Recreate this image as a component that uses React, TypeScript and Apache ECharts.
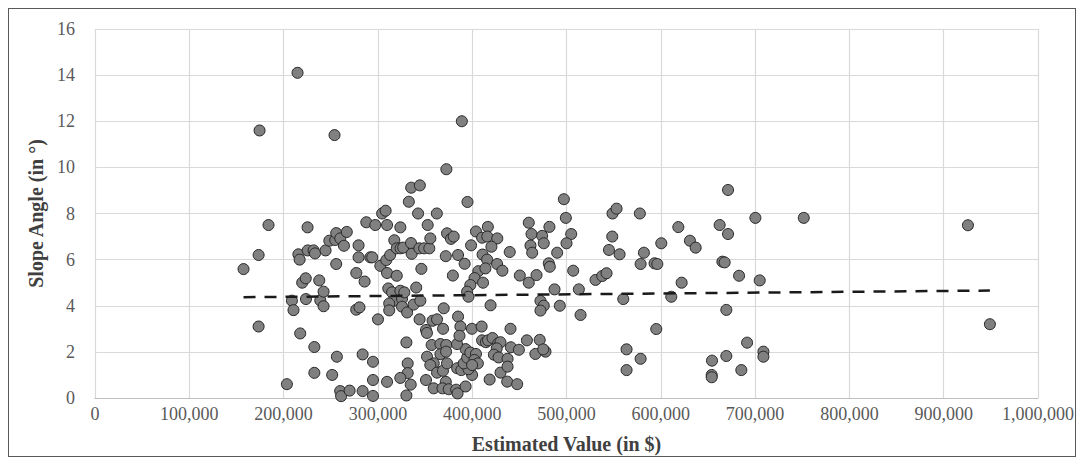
import React, { useEffect, useRef } from "react";
import * as echarts from "echarts";

// Estimated value in thousands of dollars, paired with slope angle (degrees)
const estimatedValueK = [
  157.5, 173.5, 173.5, 174.5, 184, 203.5, 208.8, 210.5, 214.8, 215.7, 217, 217.6, 219.7, 223.5, 223.7, 225.4, 225.6,
  231.8, 233.3, 232.6, 232.6, 237.8, 238.9, 242.4, 242.4, 244.5, 248.5, 251.5, 254, 254.8, 255.8, 255.8, 256.5, 260,
  261, 270, 260.1, 264, 267, 277.1, 279.5, 279.5, 285.9, 277, 280.5, 283.8, 283.8, 287.7, 292, 294, 294.8, 294.8,
  294.8, 297.2, 300.1, 302.6, 304.5, 308.2, 308.9, 309.7, 309.7, 309.7, 311, 315, 316, 312, 312, 313, 317.4, 320, 324,
  326.8, 320, 323.8, 323.8, 325.6, 328, 325.6, 331, 330.2, 331.6, 331.6, 323.8, 334.8, 330.2, 332.8, 335.3, 335.1,
  335.8, 337.9, 340.6, 344.5, 342.6, 344, 349, 354.5, 345, 344.2, 346.1, 352.8, 355.6, 351, 352, 358, 362.7, 369.1,
  369.8, 357, 366.3, 366.3, 372.5, 372.3, 352.1, 359.2, 355.6, 362.7, 369, 373.3, 372, 351, 359.2, 368.5, 375.1, 383,
  384.5, 393, 399.9, 418.5, 430, 437.1, 447.7, 384, 388.5, 396, 391, 394.6, 393, 398, 404, 402.4, 406, 399.9, 383.9,
  385, 387.5, 386.5, 399.7, 410, 419.5, 440.6, 410.5, 414.5, 416.8, 421.5, 427.5, 430, 426, 441, 449.5, 458, 423, 428,
  437.5, 437.5, 471.6, 467, 477.7, 475.3, 372.6, 389, 395, 362.5, 373.3, 377.5, 380.4, 372, 385, 392, 379.5, 398.8,
  404, 416.6, 410.5, 416, 426.6, 420.4, 411, 415.8, 426.4, 432, 406.5, 414, 402.5, 411.5, 398, 394.6, 396, 439.8,
  450.5, 468.2, 460, 460, 462.9, 474.2, 481.9, 475.9, 461.8, 463.6, 505, 500, 490.1, 481.2, 482.3, 507.1, 530.8,
  537.9, 542.5, 487.3, 513.1, 472.4, 475.9, 472.4, 492.9, 514.9, 497.2, 499.3, 548.8, 553.1, 577.8, 548.5, 545,
  556.3, 582.1, 578.6, 600.5, 618.6, 630.9, 637, 662.4, 671.3, 671.3, 593.4, 596.3, 665.3, 667.7, 683, 622.1, 560.2,
  611.1, 669.5, 595.2, 563.7, 578.6, 563.7, 654.3, 669.5, 685.4, 654, 654, 691.5, 700.3, 751.6, 925.7, 704.9, 949,
  708.8, 708.8,
];

const slopeAngle = [
  5.59, 6.2, 3.1, 11.6, 7.5, 0.6, 4.22, 3.81, 14.1, 6.23, 6.0, 2.8, 5.0, 5.19, 4.29, 7.4, 6.4,
  6.4, 6.27, 2.21, 1.09, 5.1, 4.23, 4.61, 3.98, 6.4, 6.82, 1.0, 11.4, 6.85, 7.15, 5.81, 1.79, 0.3,
  0.08, 0.32, 6.92, 6.6, 7.2, 5.42, 6.62, 6.1, 5.05, 3.83, 3.93, 1.89, 0.3, 7.62, 6.1, 6.1, 1.57, 0.78,
  0.09, 7.5, 3.41, 5.73, 8.0, 8.12, 5.98, 7.5, 5.42, 0.7, 4.75, 4.58, 4.2, 4.1, 3.8, 6.2, 6.84, 6.49, 6.49,
  6.52, 5.3, 7.4, 4.65, 4.3, 4.58, 3.96, 3.71, 2.41, 1.5, 1.08, 0.87, 0.58, 0.11, 8.51, 9.12, 6.72,
  6.25, 4.05, 4.79, 9.22, 8.0, 6.49, 6.49, 6.49, 4.22, 3.41, 5.6, 7.5, 6.92, 2.95, 2.82, 3.35, 3.41, 3.0,
  3.89, 2.3, 2.34, 1.9, 2.3, 2.01, 1.79, 1.5, 1.43, 1.1, 1.18, 1.5, 0.7, 0.78, 0.42, 0.42, 0.38, 0.36,
  0.2, 0.5, 1.0, 0.8, 1.1, 0.71, 0.6, 1.29, 1.21, 1.25, 1.5, 1.75, 2.12, 1.97, 1.91, 1.65, 1.5, 1.43, 2.34,
  3.53, 3.1, 2.7, 3.0, 3.1, 4.02, 3.0, 2.5, 2.42, 2.5, 2.6, 2.37, 2.42, 2.15, 2.2, 2.09, 2.5, 1.88, 1.76,
  1.7, 1.36, 2.52, 1.91, 2.01, 2.11, 9.92, 12.0, 8.5, 8.0, 7.14, 6.9, 7.0, 6.15, 6.2, 5.82, 5.31, 6.62,
  7.22, 7.42, 6.95, 7.0, 6.92, 6.56, 6.22, 6.0, 5.81, 5.52, 5.5, 5.62, 5.2, 5.0, 4.9, 4.61, 4.39, 6.33,
  5.31, 5.33, 5.0, 7.6, 7.11, 7.03, 7.42, 6.71, 6.61, 6.3, 7.11, 6.71, 6.3, 5.84, 5.69, 5.52, 5.12,
  5.29, 5.41, 4.71, 4.71, 4.21, 4.0, 3.79, 4.0, 3.6, 8.62, 7.81, 8.0, 8.21, 8.0, 7.0, 6.42,
  6.23, 6.3, 5.81, 6.71, 7.41, 6.82, 6.52, 7.5, 7.11, 9.02, 5.84, 5.81, 5.91, 5.88, 5.3, 5.0, 4.29,
  4.39, 3.82, 2.99, 2.11, 1.7, 1.21, 1.62, 1.82, 1.21, 1.0, 0.9, 2.4, 7.81, 7.81, 7.49, 5.1, 3.2,
  2.01, 1.79,
];

// Linear trendline end points
const trendValueK = [157.5, 949];
const trendAngle = [4.37, 4.66];

const serif = "'Liberation Serif', 'DejaVu Serif', serif";

function withCommas(v: number): string {
  return String(Math.round(v)).replace(/\B(?=(\d{3})+(?!\d))/g, ",");
}

export default function App() {
  const ref = useRef<HTMLDivElement>(null);

  useEffect(() => {
    if (!ref.current) return;
    const chart = echarts.init(ref.current, null, { renderer: "svg" });
    const points = estimatedValueK.map((v, i) => [v * 1000, slopeAngle[i]]);
    const trend = trendValueK.map((v, i) => [v * 1000, trendAngle[i]]);

    chart.setOption({
      animation: false,
      grid: { left: 86, right: 37, top: 20, bottom: 58, containLabel: false, outerBoundsMode: "none" },
      xAxis: {
        type: "value",
        min: 0,
        max: 1000000,
        interval: 100000,
        name: "Estimated Value (in $)",
        nameLocation: "middle",
        nameGap: 36,
        nameTextStyle: { fontFamily: serif, fontSize: 20, fontWeight: "bold", color: "#404040" },
        axisLine: { show: true, lineStyle: { color: "#bfbfbf", width: 1 } },
        axisTick: { show: false },
        axisLabel: { formatter: (v: number) => withCommas(v), color: "#595959", fontFamily: serif, fontSize: 18, margin: 7 },
        splitLine: { show: true, lineStyle: { color: "#d9d9d9", width: 1.2 } },
      },
      yAxis: {
        type: "value",
        min: 0,
        max: 16,
        interval: 2,
        name: "Slope Angle (in °)",
        nameLocation: "middle",
        nameGap: 46,
        nameTextStyle: { fontFamily: serif, fontSize: 20, fontWeight: "bold", color: "#404040" },
        axisLine: { show: false },
        axisTick: { show: false },
        axisLabel: { color: "#595959", fontFamily: serif, fontSize: 18, margin: 20 },
        splitLine: { show: true, lineStyle: { color: "#d9d9d9", width: 1.2 } },
      },
      series: [
        {
          type: "scatter",
          data: points,
          symbol: "circle",
          symbolSize: 11,
          itemStyle: { color: "#808080", borderColor: "#262626", borderWidth: 1, opacity: 1 },
          z: 2,
        },
        {
          type: "line",
          data: trend,
          symbol: "none",
          lineStyle: { color: "#1a1a1a", width: 2.5, type: [12, 9] },
          z: 3,
        },
      ],
    });
    return () => chart.dispose();
  }, []);

  return (
    <div style={{ width: 1068, height: 449, border: "1px solid #595959", boxSizing: "border-box" }}>
      <div ref={ref} style={{ width: 1066, height: 447 }} />
    </div>
  );
}
